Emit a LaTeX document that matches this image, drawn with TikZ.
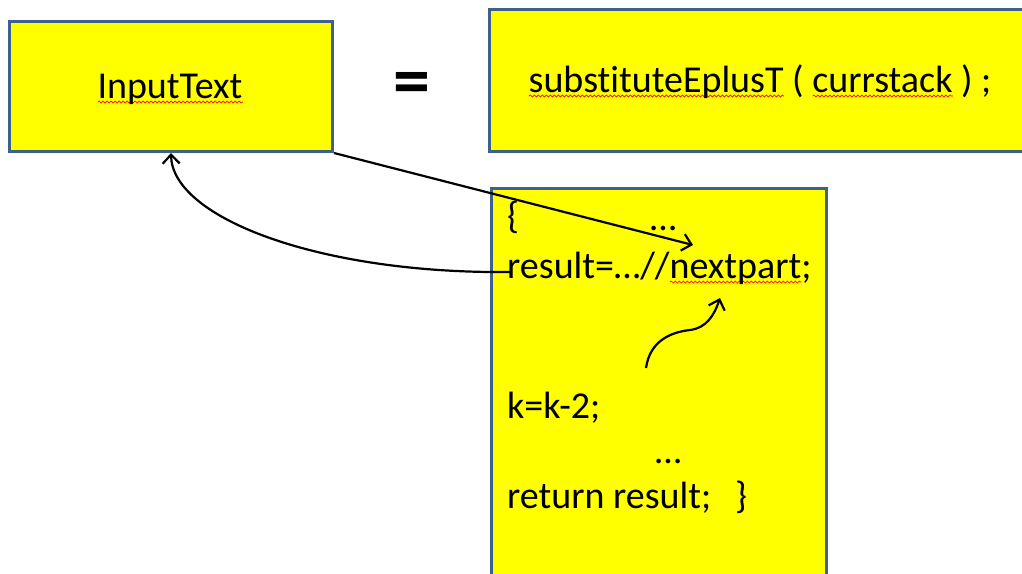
\documentclass[tikz,border=0pt]{standalone}
\usepackage{fontspec}
\setmainfont{Carlito}[Ligatures=NoCommon]
\usetikzlibrary{arrows.meta,decorations.pathmorphing}
\definecolor{boxblue}{RGB}{62,96,140}
\definecolor{boxfill}{RGB}{255,255,0}
\newsavebox{\spellbox}
\newlength{\spellwd}
\newcommand{\spellerr}[1]{\sbox{\spellbox}{#1}\setlength{\spellwd}{\wd\spellbox}%
  \rlap{\tikz[baseline=0pt]\draw[spellwave] (0pt,-4pt) -- (\spellwd,-4pt);}\usebox{\spellbox}}
\newcommand{\bigfont}{\fontsize{38}{42}\selectfont}
\newcommand{\codefont}{\fontsize{38}{42}\selectfont}
\tikzset{
  yellowbox/.style={draw=boxblue, fill=boxfill, line width=3pt, inner sep=0pt},
  codeline/.style={anchor=base west, inner sep=0pt, font=\codefont},
  flow/.style={-{Straight Barb[length=9pt,width=17pt]}, line width=2.2pt},
  spellwave/.style={red, line width=0.7pt, decorate,
    decoration={snake, amplitude=1pt, segment length=4pt}}
}
\begin{document}
\begin{tikzpicture}[x=1pt,y=-1pt]
\clip (0,0) rectangle (1022,573);
\node[yellowbox, minimum width=323pt, minimum height=130pt] (input) at (171,86.5) {};
\node[inner sep=0pt, anchor=base] (input-text) at (170,98) {\bigfont \spellerr{InputText}};
\node (eq) at (412,89) {\fontsize{74}{74}\selectfont\bfseries =};
\node[yellowbox, minimum width=541pt, minimum height=142pt] (subst) at (760,80.5) {};
\node[inner sep=0pt, anchor=base] (subst-text) at (760,92)
     {\bigfont \spellerr{substituteEplusT} ( \spellerr{currstack} ) ;};
\node[yellowbox, minimum width=335pt, minimum height=412pt] (body) at (659,394.5) {};

\node[codeline] (open) at (507,228) {\{};
\node[codeline] (dots-1) at (650,230) {…};
\node[codeline] (result) at (507,278) {result=…//\spellerr{nextpart};};
\node[codeline] (kstep) at (507,418) {k=k-2;};
\node[codeline] (dots-2) at (655,463) {…};
\node[codeline] (return) at (507,508) {return result;\hspace{24pt}\}};

\coordinate (np) at (693,245);
\coordinate (back) at (510,272);
\coordinate (wave-a) at (646,368);
\coordinate (wave-b) at (720,298);

\draw[flow] (input.south east) -- (np);
\draw[flow] (back) .. controls (320,274) and (172,218) .. (input.south);
\draw[flow] (wave-a) .. controls (650,340) and (672,332) .. (690,330)
     .. controls (706,328) and (714,316) .. (wave-b);
\end{tikzpicture}
\end{document}
